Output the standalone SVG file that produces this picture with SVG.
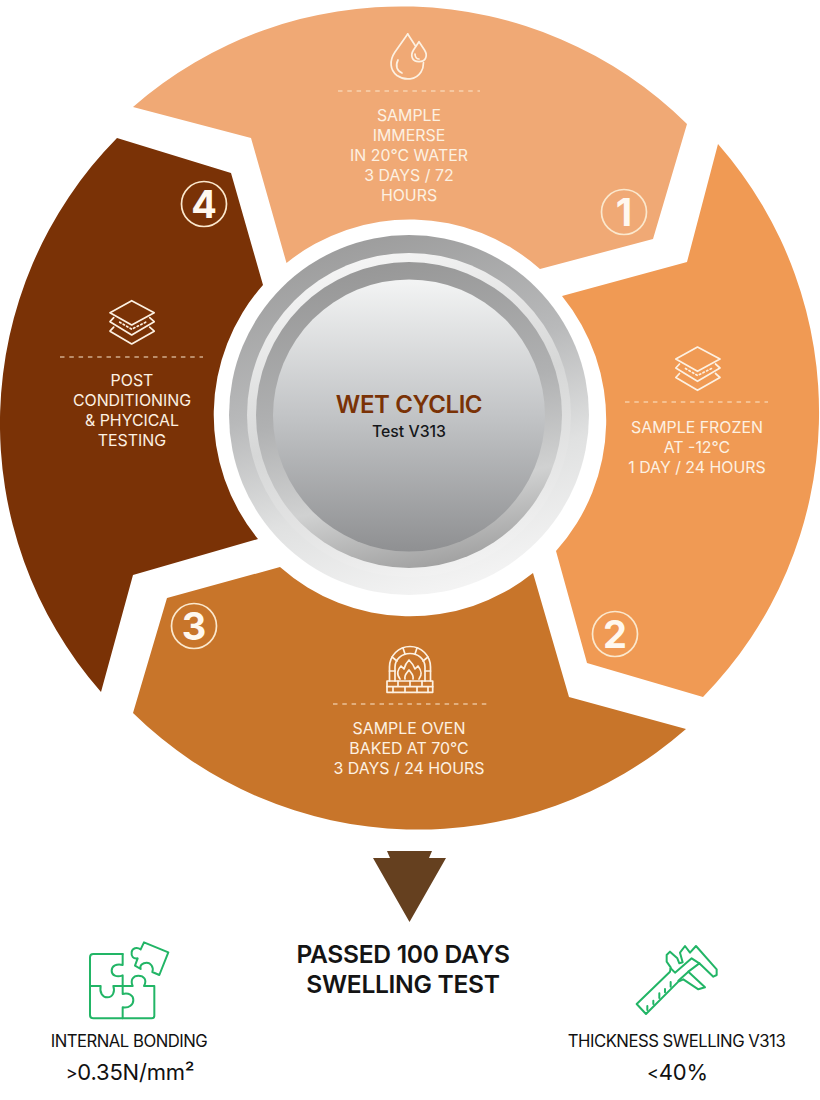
<svg xmlns="http://www.w3.org/2000/svg" width="820" height="1100" viewBox="0 0 820 1100">
<style>
text{font-family:"Inter","Liberation Sans",sans-serif;text-anchor:middle}
.t{font-size:15.9px;fill:#fdf1e2}
.n{font-size:38px;font-weight:700;fill:#fff8ef}
.c{fill:none;stroke:#fbe8cd;stroke-width:1.7}
.d{stroke:#fbe8cd;stroke-width:1.2;stroke-dasharray:4.5 4.8}
.i{fill:none;stroke:#fdf1e2;stroke-width:1.7;stroke-linejoin:round;stroke-linecap:round}
.g{fill:none;stroke:#22b566;stroke-width:6;stroke-linejoin:round;stroke-linecap:round}
.b{fill:#111;font-size:16.7px;letter-spacing:-.5px}
.v{fill:#111;font-size:22px;letter-spacing:-.2px}
.h{fill:#141414;font-size:24.6px;font-weight:600;letter-spacing:-.3px}
</style>
<defs>
<linearGradient id="core" x1="0" y1="0" x2="0" y2="1"><stop offset="0" stop-color="#f3f4f4"/><stop offset=".5" stop-color="#c2c4c6"/><stop offset="1" stop-color="#8f9092"/></linearGradient>
<linearGradient id="ring1" x1=".3" y1="0" x2=".6" y2="1"><stop offset="0" stop-color="#9b9b9b"/><stop offset=".4" stop-color="#b8b9ba"/><stop offset=".7" stop-color="#e0e1e1"/><stop offset="1" stop-color="#f4f4f4"/></linearGradient>
<linearGradient id="ring2" x1=".3" y1="0" x2=".6" y2="1"><stop offset="0" stop-color="#f6f6f6"/><stop offset=".5" stop-color="#d6d7d7"/><stop offset="1" stop-color="#f2f2f2"/></linearGradient>
<linearGradient id="ring3" x1=".4" y1="0" x2=".6" y2="1"><stop offset="0" stop-color="#979797"/><stop offset=".45" stop-color="#b0b1b2"/><stop offset=".75" stop-color="#d0d1d1"/><stop offset="1" stop-color="#a0a0a0"/></linearGradient>
<g id="layers" class="i">
<path d="M0 0L22.500 12 0 24.300-21.700 12Z"/>
<path d="M-18 17L-21.700 21 0 34.300 22.500 21 18 17"/>
<path d="M-18 26.500L-21.700 30.500 0 43.300 22.500 30.500 18 26.500"/>
<path d="M-12 21.500L0 28.500 14 21.500" stroke-dasharray="1.500 2.500"/>
</g>
</defs>
<g id="connectors">
<path fill="#65401f" d="M387 851H432L429 858H446L409.500 922 373 858H390Z"/>
</g>
<g id="step1">
<path fill="#f0a975" d="M133 107A407 407 0 0 1 687 124L653 239 540 269A196 196 0 0 0 286.500 263L251 138Z"/>
<path class="i" d="M407.700 34L395 52C389 61 390 70 397 75.500 405 81 416 80 421 72 423 69 423.500 66 423.500 62.500"/>
<path class="i" d="M407.700 34L415.500 46"/>
<path class="i" d="M398 60C395 66 397 71 402 73"/>
<path class="i" d="M419 41.700L413.500 50C410 55.500 412 61.700 419 61.700 426 61.700 428 55.500 424.500 50Z"/>
<path class="i" d="M415 54C415 57 417 59 419 59"/>
<line class="d" x1="338" y1="91" x2="480" y2="91"/>
<text class="t" x="409" y="121">SAMPLE</text>
<text class="t" x="409" y="141">IMMERSE</text>
<text class="t" x="409" y="161">IN 20°C WATER</text>
<text class="t" x="409" y="181">3 DAYS / 72</text>
<text class="t" x="409" y="201">HOURS</text>
<circle class="c" cx="624" cy="212" r="22.500"/>
<text class="n" x="624" y="226">1</text>
</g>
<g id="step2">
<path fill="#f09a54" d="M718 144A407 407 0 0 1 703 697L587 663 556 551A196 196 0 0 0 562 296L687 262Z"/>
<use href="#layers" x="697.500" y="347"/>
<line class="d" x1="625" y1="402" x2="768" y2="402"/>
<text class="t" x="697" y="433">SAMPLE FROZEN</text>
<text class="t" x="697" y="453">AT -12°C</text>
<text class="t" x="697" y="473">1 DAY / 24 HOURS</text>
<circle class="c" cx="615" cy="634" r="22.500"/>
<text class="n" x="615" y="648">2</text>
</g>
<g id="step3">
<path fill="#c8752a" d="M167 598L280 567A196 196 0 0 0 533 573L569 697 686 729A407 407 0 0 1 133 713Z"/>
<g class="i">
<path d="M387 681H432.700V692.300H387Z"/>
<path d="M387 686.700H432.700M398 681V686.700M410 681V686.700M422 681V686.700M393 686.700V692.300M405 686.700V692.300M417 686.700V692.300M428 686.700V692.300"/>
<path d="M389.500 681V667A20.500 20.500 0 0 1 430.500 667V681"/>
<path d="M395 681V667A15 13.500 0 0 1 425 667V681"/>
<path d="M389.500 671H395M425 671H430.500M392 657L397 661M428 657L423 661M403 648L405 654M417 648L415 654"/>
<path d="M400 679C396 674 398 669 401 666L404 669C405 665 407 662 409 660 412 663 414 666 415 669L418 666C421 670 423 674 419 679"/>
<path d="M405 679C404 675 407 673 409 670 411 673 414 675 413 679"/>
</g>
<line class="d" x1="333" y1="704" x2="487" y2="704"/>
<text class="t" x="409" y="734">SAMPLE OVEN</text>
<text class="t" x="409" y="754">BAKED AT 70°C</text>
<text class="t" x="409" y="774">3 DAYS / 24 HOURS</text>
<circle class="c" cx="194" cy="626" r="22.500"/>
<text class="n" x="194" y="640">3</text>
</g>
<g id="step4">
<path fill="#7a3206" d="M117 138L231 173 263 285A196 196 0 0 0 258 539L133 575 101 692A407 407 0 0 1 117 138Z"/>
<use href="#layers" x="131.700" y="300.700"/>
<line class="d" x1="60" y1="357" x2="203" y2="357"/>
<text class="t" x="132" y="386">POST</text>
<text class="t" x="132" y="406">CONDITIONING</text>
<text class="t" x="132" y="426">&amp; PHYCICAL</text>
<text class="t" x="132" y="446">TESTING</text>
<circle class="c" cx="204" cy="204" r="22.500"/>
<text class="n" x="204" y="218">4</text>
</g>
<g id="hub">
<circle cx="409" cy="415" r="180" fill="url(#ring1)"/>
<circle cx="409" cy="415" r="162" fill="url(#ring2)"/>
<circle cx="409" cy="415" r="153" fill="url(#ring3)"/>
<circle cx="409" cy="415.500" r="136" fill="url(#core)"/>
<text x="409" y="413" font-size="24" font-weight="600" fill="#7a3206" letter-spacing="-.4">WET CYCLIC</text>
<text x="409" y="436.500" font-size="15.800" font-weight="500" fill="#15171a">Test V313</text>
</g>
<g id="result-heading">
<text class="h" x="403" y="963">PASSED 100 DAYS</text>
<text class="h" x="403" y="993">SWELLING TEST</text>
</g>
<g id="internal-bonding">
<g transform="translate(70 930) scale(.3333)">
<path class="g" d="M158 72H70Q60 72 60 82V255Q60 265 70 265H245Q253 265 253 257V168H222C232 150 222 137 205 137 190 137 180 150 188 168H158"/>
<path class="g" d="M158 72V105C140 100 125 108 125 122 125 136 140 143 158 136V192C176 188 190 195 190 210 190 224 178 235 158 232V265"/>
<path class="g" d="M60 168H92C88 188 98 202 112 202 128 202 136 186 130 168H158"/>
<path class="g" d="M222 37L295 67 268 135 247 126C252 112 242 98 230 98 218 98 208 106 212 117L195 107 203 85C190 88 183 78 185 66 187 55 200 50 212 58Z"/>
</g>
<text class="b" x="129" y="1047">INTERNAL BONDING</text>
<text class="v" x="130" y="1080"><tspan font-size="18" dy="-1.500">&gt;</tspan><tspan dy="1.500">0.35N/mm²</tspan></text>
</g>
<g id="thickness-swelling">
<g transform="translate(620 930) scale(.3333)">
<path class="g" d="M50 222L150 125 152 112 140 95 140 75 150 65 172 85 178 100 188 97 180 68 195 48 210 68 228 48 290 118 290 135 280 140 238 100 205 125 255 172 235 178 190 148 175 155 78 252Z"/>
<path class="g" d="M152 115L165 128 215 85 238 100M175 152L205 125"/>
<path class="g" d="M82 240V228M100 222V212M118 204V190M135 187V177M152 170V156"/>
</g>
<text class="b" x="676.500" y="1047">THICKNESS SWELLING V313</text>
<text class="v" x="677.500" y="1080"><tspan font-size="18" dy="-1.500">&lt;</tspan><tspan dy="1.500">40%</tspan></text>
</g>
</svg>
